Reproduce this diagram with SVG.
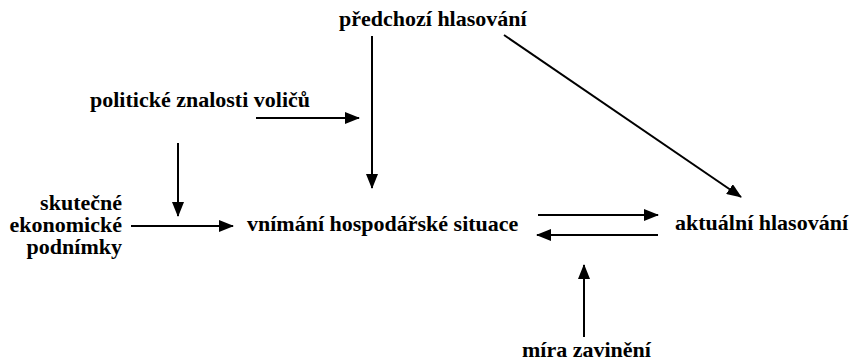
<svg xmlns="http://www.w3.org/2000/svg" width="852" height="364" viewBox="0 0 852 364">
<style>
.t{font-family:"Liberation Serif","DejaVu Serif",serif;font-weight:bold;font-size:22px;fill:#000}
.c{stroke:#000;stroke-width:2;fill:none;marker-end:url(#ah)}
</style>
<defs>
<marker id="ah" viewBox="0 0 15 12" markerWidth="15" markerHeight="12" refX="14" refY="6" orient="auto" markerUnits="userSpaceOnUse">
<path d="M0,0 L15,6 L0,12 z" fill="#000"/>
</marker>
</defs>
<rect width="852" height="364" fill="#fff"/>
<g id="predchozi"><text class="t" x="339" y="26">předchozí hlasování</text></g>
<g id="znalosti"><text class="t" x="90" y="107">politické znalosti voličů</text></g>
<g id="podminky"><text class="t" text-anchor="end"><tspan x="122" y="210">skutečné</tspan><tspan x="122" y="232">ekonomické</tspan><tspan x="122" y="254">podnímky</tspan></text></g>
<g id="vnimani"><text class="t" x="247" y="231">vnímání hospodářské situace</text></g>
<g id="aktualni"><text class="t" x="675" y="230">aktuální hlasování</text></g>
<g id="mira"><text class="t" x="522" y="357">míra zavinění</text></g>
<g id="connectors">
<line class="c" x1="372" y1="36" x2="372" y2="188"/>
<line class="c" x1="504" y1="35" x2="741" y2="197"/>
<line class="c" x1="256" y1="118" x2="359" y2="118"/>
<line class="c" x1="178" y1="143" x2="178" y2="216"/>
<line class="c" x1="131" y1="226" x2="233" y2="226"/>
<line class="c" x1="538" y1="215" x2="658" y2="215"/>
<line class="c" x1="658" y1="235" x2="537" y2="235"/>
<line class="c" x1="584" y1="337" x2="584" y2="265"/>
</g>
</svg>
